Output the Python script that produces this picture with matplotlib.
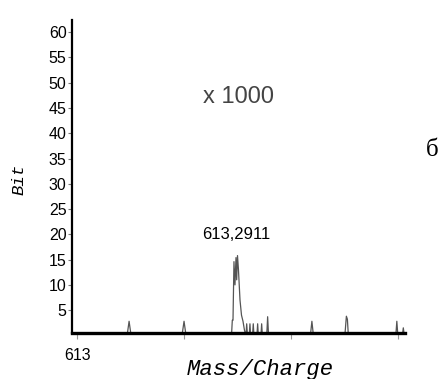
import matplotlib
matplotlib.use("Agg")
import matplotlib.pyplot as plt

# spectrum profile (m/z, intensity in thousands)
mz = [612.9907, 613.0935, 613.0972, 613.1009, 613.1962, 613.2000, 613.2037,
      613.2888, 613.2903, 613.2916, 613.2934, 613.2953, 613.2972, 613.2985,
      613.3000, 613.3018, 613.3047, 613.3075, 613.3103, 613.3131, 613.3159,
      613.3172, 613.3187, 613.3220, 613.3233, 613.3246, 613.3282, 613.3295,
      613.3308, 613.3364, 613.3377, 613.3390, 613.3439, 613.3452, 613.3465,
      613.3547, 613.3564, 613.3581, 613.4364, 613.4392, 613.4420, 613.5009,
      613.5037, 613.5056, 613.5074, 613.5962, 613.5981, 613.6000, 613.6084,
      613.6102, 613.6121]
intensity = [0, 0, 2.8, 0, 0, 2.8, 0,
             0, 3.0, 3.0, 14.6, 10.0, 15.4, 11.0,
             15.8, 13.0, 7.0, 4.0, 2.8, 1.0, 0,
             2.3, 0, 0, 2.3, 0, 0, 2.3,
             0, 0, 2.3, 0, 0, 2.3, 0,
             0, 3.7, 0, 0, 2.8, 0, 0,
             3.8, 3.2, 0, 0, 2.8, 0, 0,
             1.5, 0]

y_ticks = list(range(5, 65, 5))
x_ticks = [613.0, 613.2, 613.4, 613.6]
x_labels = ["613", "", "", ""]
peak_label = "613,2911"

fig = plt.figure(figsize=(4.4, 3.79), dpi=100)
ax = fig.add_axes([0.164, 0.121, 0.756, 0.826])

ax.plot(mz, intensity, color="#555555", lw=0.9)

ax.set_xlim(612.9907, 613.613)
ax.set_ylim(0.45, 62.4)
ax.set_yticks(y_ticks)
ax.set_xticks(x_ticks)
ax.set_xticklabels(x_labels)

for s in ["top", "right"]:
    ax.spines[s].set_visible(False)
ax.spines["left"].set_linewidth(1.6)
ax.spines["bottom"].set_linewidth(2.4)

ax.tick_params(axis="y", length=3, width=0.8, color="#777777", pad=1,
               labelsize=11.5)
ax.tick_params(axis="x", length=4, width=0.8, color="#999999", pad=7,
               labelsize=11.5)
for lab in ax.get_xticklabels() + ax.get_yticklabels():
    lab.set_fontfamily("Liberation Sans")

ax.text(613.2972, 18.5, peak_label, ha="center", va="bottom", fontsize=12,
        family="Liberation Sans")
fig.text(238 / 440, 1 - 97 / 379, "x 1000", ha="center", va="center",
         fontsize=17, color="#444444", family="Liberation Sans")

fig.text(19 / 440, 1 - 179 / 379, "Bit", rotation=90, ha="center",
         va="center", fontsize=12.5, family="Liberation Mono", style="italic")
fig.text(260 / 440, 1 - 370 / 379, "Mass/Charge", ha="center", va="center",
         fontsize=16, family="Liberation Mono", style="italic")
fig.text(426 / 440, 1 - 150 / 379, "б", ha="left", va="center",
         fontsize=18, family="Liberation Serif")

fig.savefig("out.png", dpi=100)
